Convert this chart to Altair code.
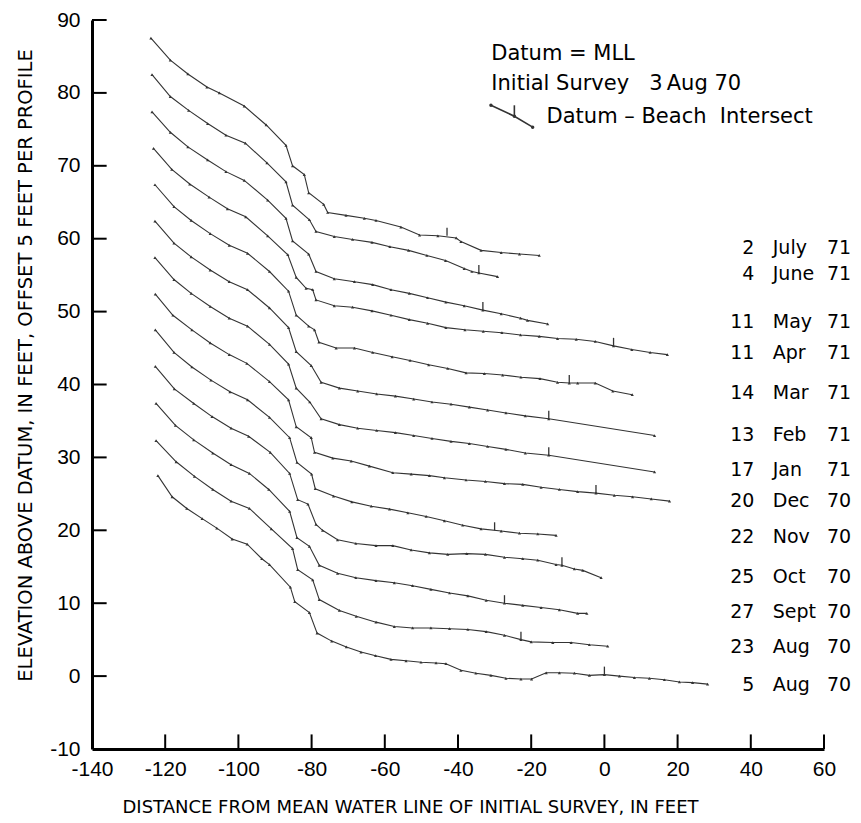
import altair as alt
import pandas as pd

# ---------------- data (elevations relative to each profile's own offset) -------------
profiles = ["5 Aug 70", "23 Aug 70", "27 Sept 70", "25 Oct 70", "22 Nov 70", "20 Dec 70",
            "17 Jan 71", "13 Feb 71", "14 Mar 71", "11 Apr 71", "11 May 71", "4 June 71", "2 July 71"]
offsets = [0, 5, 10, 15, 20, 25, 30, 35, 40, 45, 50, 55, 60]

aug05_x = [-122, -118.1, -114.1, -109.9, -105.9, -101.7, -97.6, -93.6, -91.5, -85.8, -84.6, -80.6, -78.5,
           -74.5, -70.5, -66.5, -62.5, -58.3, -54.2, -50.1, -46, -43.3, -39.2, -35.1, -31, -26.9, -22.8,
           -19.9, -15.9, -12.3, -8.2, -4.1, 0, 4.1, 8.2, 12.3, 16.4, 20.5, 24.1, 28.2]
aug05_y = [27.5, 24.6, 23.0, 21.6, 20.3, 18.8, 18.1, 16.1, 15.3, 12.2, 10.2, 8.7, 5.9,
           4.8, 4.0, 3.3, 2.8, 2.3, 2.1, 1.9, 1.8, 1.7, 0.8, 0.4, 0.1, -0.3, -0.4,
           -0.4, 0.45, 0.45, 0.4, 0.1, 0.2, 0.0, -0.2, -0.3, -0.5, -0.8, -0.9, -1.1]

aug23_x = [-122.5, -117, -112, -107, -102, -97, -91, -85.2, -83.8, -79.7, -77.9, -72.4, -67.8, -62.4,
           -57.4, -52.4, -47.4, -42.3, -37.3, -32.3, -27.3, -22.8, -20, -14.1, -9.1, -4.1, 0.9]
aug23_y = [27.3, 24.4, 22.4, 20.6, 19.0, 18.0, 15.2, 12.5, 9.6, 8.2, 5.5, 4.0, 3.2, 2.4,
           1.8, 1.6, 1.6, 1.5, 1.4, 1.1, 0.6, 0.0, -0.3, -0.4, -0.4, -0.7, -0.9]

sep27_x = [-122.5, -117.2, -112.2, -107, -102, -97, -91.7, -86, -84, -80.6, -77.9, -72.9, -67.9, -62.4,
           -57.4, -52.4, -47.4, -42.3, -37.3, -32.3, -27.3, -22.3, -17.3, -12.3, -7.3, -4.8]
sep27_y = [27.4, 24.4, 22.4, 20.6, 19.0, 17.8, 15.6, 12.6, 9.0, 7.8, 5.2, 4.1, 3.5, 3.1,
           2.8, 2.4, 1.9, 1.4, 1.0, 0.4, 0.0, -0.3, -0.6, -0.9, -1.4, -1.4]

oct25_x = [-122.7, -117.5, -112.2, -107.2, -102, -97.2, -91.3, -86, -83.8, -81, -78.8, -77, -72.9, -67.9,
           -62.4, -57.8, -52.8, -47.8, -42.8, -37.6, -32.5, -27.3, -22.3, -18.2, -13.2, -11.6, -8.2, -5.9, -0.9]
oct25_y = [27.5, 24.4, 22.4, 20.6, 19.0, 17.9, 15.7, 12.8, 9.2, 8.6, 5.8, 5.0, 3.7, 3.2,
           2.9, 2.9, 2.3, 1.9, 1.7, 1.8, 1.7, 1.3, 1.1, 0.9, 0.3, 0.2, -0.3, -0.5, -1.5]

nov22_x = [-122.7, -117.6, -112.7, -107.5, -102.3, -97.5, -91.5, -86, -84, -80, -79, -74, -69, -63.7,
           -58.7, -53.7, -48.7, -43.7, -38.7, -33.7, -28.2, -23.2, -18.2, -13.2]
nov22_y = [27.5, 24.4, 22.4, 20.6, 19.0, 17.9, 15.5, 12.7, 9.3, 7.7, 5.7, 4.7, 3.9, 3.3,
           2.9, 2.4, 1.9, 1.3, 0.7, 0.2, -0.1, -0.4, -0.5, -0.7]

dec20_x = [-122.7, -117.9, -112.7, -107.7, -102.5, -97.7, -91.5, -86.3, -84.2, -80.1, -79.2, -74.2, -69.2,
           -64.2, -57.8, -52.8, -47.8, -43.7, -37.8, -32.5, -27.3, -22.3, -17.3, -12.3, -7.3, -2.3,
           2.7, 7.7, 12.8, 17.8]
dec20_y = [27.4, 24.5, 22.5, 20.7, 19.1, 17.9, 15.4, 12.9, 9.2, 7.7, 5.7, 4.9, 4.5,
           3.8, 2.9, 2.7, 2.5, 2.2, 1.9, 1.7, 1.4, 1.3, 0.9, 0.6, 0.3, 0.1,
           -0.2, -0.4, -0.7, -1.0]

jan17_x = [-122.8, -117.6, -112.9, -107.7, -102.5, -97.5, -91.5, -86.3, -84.2, -80.5, -77.4, -72.4, -67.4,
           -62.2, -57.1, -52.1, -47.1, -41.9, -36.9, -31.9, -26.9, -21.6, -15.2, 13.7]
jan17_y = [27.4, 24.4, 22.5, 20.7, 19.1, 18.0, 15.5, 12.8, 9.5, 7.6, 5.3, 4.5, 4.0,
           3.7, 3.4, 3.0, 2.6, 2.2, 1.9, 1.5, 1.1, 0.6, 0.3, -2.0]

feb13_x = [-122.8, -117.6, -112.9, -107.7, -102.5, -97.5, -91.5, -86.3, -84.2, -80.1, -77.4, -72.4, -67.4,
           -62.2, -57.1, -52.1, -47.1, -41.9, -36.9, -31.9, -26.9, -21.6, -15.2, 13.7]
feb13_y = [27.4, 24.4, 22.5, 20.7, 19.1, 18.0, 15.5, 12.8, 9.5, 7.6, 5.3, 4.5, 4.1,
           3.7, 3.4, 3.0, 2.6, 2.3, 1.9, 1.5, 1.1, 0.7, 0.3, -2.0]

mar14_x = [-122.8, -117.6, -112.9, -107.7, -102.5, -97.5, -91.5, -86.3, -84.2, -80.8, -79.2, -78, -73.3,
           -68.3, -63.3, -58, -53.1, -48, -42.8, -37.8, -32.8, -27.8, -22.8, -17.6, -12.8, -9.6, -7.3,
           -2.5, 2.3, 7.6]
mar14_y = [27.4, 24.4, 22.5, 20.7, 19.1, 18.0, 15.5, 12.8, 9.5, 8.0, 7.5, 5.8, 5.0,
           5.0, 4.4, 3.8, 3.3, 2.7, 2.2, 1.6, 1.5, 1.3, 1.0, 0.8, 0.3, 0.2, 0.2,
           0.2, -0.9, -1.4]

apr11_x = [-123.2, -118.2, -113.3, -108, -103, -98, -92, -86.5, -84.2, -81.5, -79.7, -78.8, -73.8, -68.8,
           -63.5, -58.3, -53.3, -48.3, -43.3, -38.1, -33.1, -28, -22.9, -17.8, -12.8, -7.7, -2.5,
           2.5, 7.5, 12.5, 17.2]
apr11_y = [27.4, 24.5, 22.5, 20.7, 19.1, 18.0, 15.4, 12.8, 9.7, 8.2, 8.0, 6.6, 5.8, 5.6,
           5.1, 4.5, 3.9, 3.4, 2.8, 2.5, 2.3, 2.1, 1.8, 1.6, 1.3, 1.2, 0.9,
           0.3, -0.2, -0.6, -0.9]

may11_x = [-123.6, -118.6, -113.8, -108.4, -103.4, -98.4, -92, -87, -85.2, -80.8, -78.8, -73.8, -68.3,
           -63.3, -58.3, -53.3, -48.3, -43.3, -38.3, -33.2, -28.2, -22.9, -21, -15.5]
may11_y = [27.4, 24.6, 22.6, 20.8, 19.2, 18.0, 15.3, 12.8, 9.7, 7.9, 5.5, 4.5, 4.1,
           3.7, 3.0, 2.5, 1.9, 1.3, 0.8, 0.2, -0.3, -0.9, -1.2, -1.7]

jun04_x = [-123.6, -118.6, -113.6, -108.4, -103.4, -98.1, -92.2, -87, -85.2, -80.6, -78.8, -73.8, -68.8,
           -63.5, -58.6, -53.5, -48.5, -43.4, -38.3, -36.2, -34.3, -29.2]
jun04_y = [27.5, 24.5, 22.6, 20.8, 19.2, 18.1, 15.4, 12.8, 9.6, 7.6, 6.0, 5.3, 4.9,
           4.5, 3.9, 3.4, 2.7, 2.0, 0.9, 0.5, 0.3, -0.2]

jul02_x = [-123.9, -118.6, -113.8, -108.6, -105.2, -98.4, -92.4, -87, -85.2, -82, -80.8, -76.7, -75.6,
           -70.6, -65.6, -62.4, -55.6, -50.5, -45.5, -40.5, -39.2, -33.7, -28.2, -23.2, -17.8]
jul02_y = [27.5, 24.5, 22.6, 20.8, 20.0, 18.2, 15.6, 12.8, 10.0, 8.8, 6.3, 4.7, 3.6,
           3.2, 2.8, 2.5, 1.6, 0.5, 0.4, 0.1, -0.4, -1.6, -1.9, -2.1, -2.3]

profile_x = [aug05_x, aug23_x, sep27_x, oct25_x, nov22_x, dec20_x, jan17_x, feb13_x,
             mar14_x, apr11_x, may11_x, jun04_x, jul02_x]
profile_y = [aug05_y, aug23_y, sep27_y, oct25_y, nov22_y, dec20_y, jan17_y, feb13_y,
             mar14_y, apr11_y, may11_y, jun04_y, jul02_y]

# Datum-beach intersect marks (x, relative elevation)
intersect_x = [0, -22.8, -27.3, -11.6, -30, -2.3, -15.2, -15.2, -9.6, 2.5, -33.2, -34.3, -43]
intersect_y = [0.2, 0.0, 0.0, 0.2, 0.0, 0.1, 0.3, 0.3, 0.2, 0.3, 0.2, 0.3, 0.4]

label_day = ["5", "23", "27", "25", "22", "20", "17", "13", "14", "11", "11", "4", "2"]
label_month = ["Aug", "Aug", "Sept", "Oct", "Nov", "Dec", "Jan", "Feb", "Mar", "Apr", "May", "June", "July"]
label_year = ["70", "70", "70", "70", "70", "70", "71", "71", "71", "71", "71", "71", "71"]
label_pos_y = [-1.2, 4.0, 8.8, 13.6, 19.1, 24.0, 28.3, 33.1, 38.8, 44.3, 48.6, 55.2, 58.7]

legend_lines = ["Datum = MLL", "Initial Survey\u00a0\u00a0\u00a03\u2009Aug 70", "Datum \u2013 Beach\u00a0\u00a0Intersect"]
legend_pos_x = [-30.9, -30.9, -15.8]
legend_pos_y = [85.3, 81.2, 76.7]
legend_sym_x = [-31.0, -24.6, -19.6]
legend_sym_y = [78.3, 76.8, 75.3]

x_ticks = [-140, -120, -100, -80, -60, -40, -20, 0, 20, 40, 60]
y_ticks = [-10, 0, 10, 20, 30, 40, 50, 60, 70, 80, 90]

# ---------------- tables ----------------
rows = []
for name, off, xs_, ys_ in zip(profiles, offsets, profile_x, profile_y):
    for i, (xv, yv) in enumerate(zip(xs_, ys_)):
        rows.append({"profile": name, "idx": i, "x": xv, "y": yv + off})
df = pd.DataFrame(rows)

tick_df = pd.DataFrame({"x": intersect_x,
                        "y": [v + o for v, o in zip(intersect_y, offsets)],
                        "y2": [v + o + 1.1 for v, o in zip(intersect_y, offsets)]})

lab_df = pd.DataFrame({"day": label_day, "month": label_month, "year": label_year, "y": label_pos_y})
lab_df["xd"] = 41.0
lab_df["xm"] = 46.0
lab_df["xy"] = 60.8
leg_df = pd.DataFrame({"t": legend_lines, "x": legend_pos_x, "y": legend_pos_y})
sym_df = pd.DataFrame({"x": legend_sym_x, "y": legend_sym_y, "idx": [0, 1, 2]})
sym_tick = pd.DataFrame({"x": [legend_sym_x[1]], "y": [legend_sym_y[1]], "y2": [legend_sym_y[1] + 1.5]})

xt_df = pd.DataFrame({"x": x_ticks[1:], "y": [-10] * (len(x_ticks) - 1), "y2": [-8] * (len(x_ticks) - 1)})
yt_df = pd.DataFrame({"y": y_ticks[1:], "x": [-140] * (len(y_ticks) - 1), "x2": [-136] * (len(y_ticks) - 1)})

# ---------------- chart ----------------
FONT = "DejaVu Sans"
NUMFONT = "Liberation Sans"
INK = "#333333"

xs = alt.Scale(domain=[-140, 60], nice=False, zero=False)
ys = alt.Scale(domain=[-10, 90], nice=False, zero=False)

x_axis = alt.Axis(values=x_ticks, ticks=False, tickSize=0, grid=False, domainColor="black", domainWidth=3,
                  labelFont=NUMFONT, labelFontSize=21, labelColor="black", labelPadding=9,
                  labelFlush=False, labelOverlap=False, labelExpr="'' + datum.value",
                  title="DISTANCE FROM MEAN WATER LINE OF INITIAL SURVEY, IN FEET",
                  titleFont=FONT, titleFontSize=18, titleFontWeight="normal", titleColor="black",
                  titleX=318, titleY=49, titleAlign="center", titleBaseline="top")
y_axis = alt.Axis(values=y_ticks, ticks=False, tickSize=0, grid=False, domainColor="black", domainWidth=3,
                  labelFont=NUMFONT, labelFontSize=21, labelColor="black", labelPadding=12,
                  labelFlush=False, labelOverlap=False, labelExpr="'' + datum.value",
                  title="ELEVATION ABOVE DATUM, IN FEET, OFFSET 5 FEET PER PROFILE",
                  titleFont=FONT, titleFontSize=19.5, titleFontWeight="normal", titleColor="black",
                  titleX=-67, titleY=345, titleAngle=270, titleAlign="center", titleBaseline="middle")


def X(field="x"):
    return alt.X(f"{field}:Q", scale=xs, axis=x_axis)


def Y(field="y"):
    return alt.Y(f"{field}:Q", scale=ys, axis=y_axis)


lines = alt.Chart(df).mark_line(color=INK, strokeWidth=1.1).encode(
    x=X(), y=Y(), detail="profile:N", order="idx:Q")

points = alt.Chart(df).mark_point(filled=True, size=10, color=INK, opacity=1, shape="triangle-up").encode(
    x=X(), y=Y())

ticks = alt.Chart(tick_df).mark_rule(color=INK, strokeWidth=1.3).encode(x=X(), y=Y(), y2="y2:Q")

txt = dict(baseline="middle", font=FONT, fontSize=19, color="black")
days = alt.Chart(lab_df).mark_text(align="right", **txt).encode(x=X("xd"), y=Y(), text="day:N")
months = alt.Chart(lab_df).mark_text(align="left", **txt).encode(x=X("xm"), y=Y(), text="month:N")
years = alt.Chart(lab_df).mark_text(align="left", **txt).encode(x=X("xy"), y=Y(), text="year:N")

legend_text = alt.Chart(leg_df).mark_text(align="left", baseline="middle", font=FONT, fontSize=21,
                                          color="black").encode(x=X(), y=Y(), text="t:N")
sym_line = alt.Chart(sym_df).mark_line(color=INK, strokeWidth=1.6).encode(x=X(), y=Y(), order="idx:Q")
sym_pts = alt.Chart(sym_df).mark_point(filled=True, size=12, color=INK, opacity=1).encode(x=X(), y=Y())
sym_tk = alt.Chart(sym_tick).mark_rule(color=INK, strokeWidth=1.6).encode(x=X(), y=Y(), y2="y2:Q")

xt = alt.Chart(xt_df).mark_rule(color="black", strokeWidth=2).encode(x=X(), y=Y(), y2="y2:Q")
yt = alt.Chart(yt_df).mark_rule(color="black", strokeWidth=2).encode(x=X(), x2="x2:Q", y=Y())

chart = alt.layer(lines, points, ticks, days, months, years, legend_text, sym_line, sym_pts, sym_tk,
                  xt, yt).properties(
    width=732, height=729,
    autosize=alt.AutoSizeParams(type="none"),
    padding={"left": 84, "top": 12, "right": 29, "bottom": 70},
    background="white",
).configure_view(stroke=None)

chart.save("out.html", embed_options={"renderer": "svg", "actions": False})
